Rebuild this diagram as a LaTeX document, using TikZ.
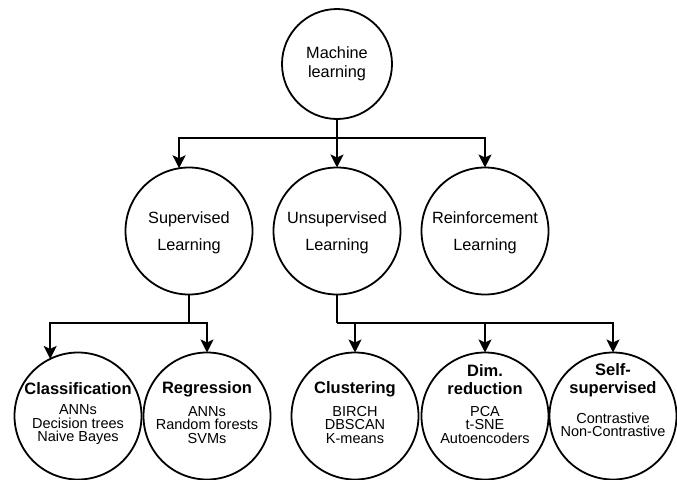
\documentclass[tikz,border=0pt]{standalone}
\usepackage{fontspec}
\setmainfont{Liberation Sans}
\usetikzlibrary{arrows.meta}
\begin{document}
\begin{tikzpicture}[x=1pt,y=-1pt,
  every node/.style={inner sep=0pt,outer sep=0pt},
  bubble/.style={draw=black,line width=1.8pt,circle,minimum size=#1},
  bubble/.default=127pt,
  link/.style={draw=black,line width=1.8pt},
  arrowlink/.style={link,-{Stealth[length=13pt,width=13pt,inset=3pt]}},
  midtext/.style={font=\fontsize{16.3}{27}\selectfont,align=center},
  toptext/.style={font=\fontsize{16.3}{19}\selectfont,align=center},
  headtext/.style={font=\fontsize{16.5}{18}\selectfont\bfseries,align=center},
  itemtext/.style={font=\fontsize{14.5}{13.5}\selectfont,align=center}]
\useasboundingbox (0,0) rectangle (677,479);

% root
\node[bubble=110pt] (ml) at (337,64) {};
\node[toptext] (mlt) at (337,64) {Machine\\learning};

% second level
\node[bubble] (sup) at (189,231) {};
\node[bubble] (uns) at (337,231) {};
\node[bubble] (rei) at (485,231) {};
\node[midtext] (supt) at (189,233) {Supervised\\Learning};
\node[midtext] (unst) at (337,233) {Unsupervised\\Learning};
\node[midtext] (reit) at (485,233) {Reinforcement\\Learning};

% third level
\node[bubble] (cls) at (78,416) {};
\node[bubble] (reg) at (207,416) {};
\node[bubble] (clu) at (355,416) {};
\node[bubble] (dim) at (485,416) {};
\node[bubble] (ssl) at (613,416) {};

\node[headtext] (clsh) at (78,389) {Classification};
\node[itemtext] (clsi) at (78,425) {ANNs\\Decision trees\\Naive Bayes};
\node[headtext] (regh) at (207,389) {Regression};
\node[itemtext] (regi) at (207,425) {ANNs\\Random forests\\SVMs};
\node[headtext] (cluh) at (355,389) {Clustering};
\node[itemtext] (clui) at (355,425) {BIRCH\\DBSCAN\\K-means};
\node[headtext] (dimh) at (485,380) {Dim.\\reduction};
\node[itemtext] (dimi) at (485,425) {PCA\\t-SNE\\Autoencoders};
\node[headtext] (sslh) at (613,380) {Self-\\supervised};
\node[itemtext] (ssli) at (613,425) {Contrastive\\Non-Contrastive};

% branch points
\coordinate (b1) at (337,138);
\coordinate (b2) at (189,323);
\coordinate (b3) at (337,323);

% connectors
\draw[link] (ml.south) -- (b1);
\draw[arrowlink] (b1) -| (sup.99);
\draw[arrowlink] (b1) -- (uns.north);
\draw[arrowlink] (b1) -| (rei.north);

\draw[link] (sup.south) -- (b2);
\draw[arrowlink] (b2) -| (cls.116.5);
\draw[arrowlink] (b2) -| (reg.north);

\draw[link] (uns.south) -- (b3);
\draw[arrowlink] (b3) -| (clu.north);
\draw[arrowlink] (b3) -| (dim.north);
\draw[arrowlink] (b3) -| (ssl.north);
\end{tikzpicture}
\end{document}
